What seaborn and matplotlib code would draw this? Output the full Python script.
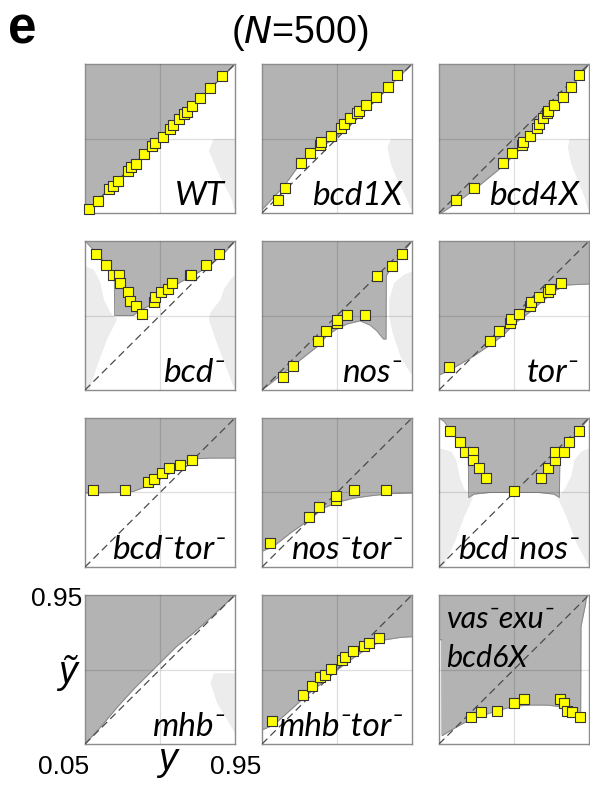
import matplotlib
matplotlib.use("Agg")
import matplotlib.pyplot as plt
import seaborn as sns

# ---- values (axes run 0.05 .. 0.95) ----
WT_X = [0.076, 0.126, 0.196, 0.216, 0.246, 0.306, 0.326, 0.354, 0.406, 0.452, 0.472,
        0.516, 0.56, 0.58, 0.612, 0.646, 0.66, 0.692, 0.74, 0.802, 0.872]
WT_Y = [0.074, 0.123, 0.193, 0.215, 0.244, 0.304, 0.326, 0.346, 0.407, 0.453, 0.473,
        0.51, 0.56, 0.58, 0.615, 0.647, 0.661, 0.695, 0.744, 0.804, 0.879]
WT_BX = [0.05, 0.25, 0.5, 0.75, 0.95]
WT_BY = [0.05, 0.25, 0.5, 0.75, 0.95]
WT_RY = [0.08, 0.13, 0.21, 0.31, 0.43, 0.5]
WT_RX = [0.94, 0.93, 0.89, 0.84, 0.79, 0.82]

BCD1_X = [0.146, 0.187, 0.281, 0.335, 0.399, 0.405, 0.462, 0.522, 0.542, 0.58, 0.622,
          0.632, 0.675, 0.733, 0.803, 0.859]
BCD1_Y = [0.127, 0.202, 0.35, 0.412, 0.463, 0.479, 0.514, 0.566, 0.586, 0.621, 0.653,
          0.667, 0.704, 0.752, 0.809, 0.884]
BCD1_BX = [0.05, 0.06, 0.18, 0.28, 0.34, 0.478, 0.7, 0.95]
BCD1_BY = [0.07, 0.08, 0.21, 0.35, 0.41, 0.495, 0.7, 0.95]
BCD1_RY = [0.08, 0.15, 0.25, 0.35, 0.45, 0.5]
BCD1_RX = [0.94, 0.91, 0.86, 0.82, 0.8, 0.82]

BCD4_X = [0.154, 0.261, 0.436, 0.486, 0.548, 0.556, 0.598, 0.636, 0.652, 0.676, 0.697,
          0.705, 0.737, 0.791, 0.839, 0.887]
BCD4_Y = [0.127, 0.202, 0.35, 0.412, 0.463, 0.479, 0.516, 0.566, 0.586, 0.621, 0.653,
          0.667, 0.704, 0.752, 0.809, 0.884]
BCD4_BX = [0.05, 0.064, 0.153, 0.26, 0.43, 0.49, 0.55, 0.65, 0.75, 0.83, 0.95]
BCD4_BY = [0.05, 0.05, 0.11, 0.19, 0.33, 0.39, 0.45, 0.56, 0.68, 0.79, 0.95]
BCD4_RY = [0.08, 0.15, 0.25, 0.35, 0.45, 0.5]
BCD4_RX = [0.94, 0.92, 0.88, 0.84, 0.82, 0.83]

BCD_X = [0.114, 0.178, 0.218, 0.254, 0.258, 0.308, 0.322, 0.354, 0.392, 0.464, 0.468,
         0.504, 0.548, 0.574, 0.678, 0.688, 0.774, 0.854]
BCD_Y = [0.871, 0.805, 0.744, 0.744, 0.696, 0.644, 0.585, 0.559, 0.509, 0.579, 0.609,
         0.644, 0.66, 0.694, 0.744, 0.744, 0.805, 0.871]
BCD_BX = [0.05, 0.088, 0.148, 0.198, 0.226, 0.228, 0.338, 0.378, 0.438, 0.518, 0.618,
          0.698, 0.778, 0.878, 0.95]
BCD_BY = [0.95, 0.91, 0.85, 0.77, 0.73, 0.5, 0.5, 0.53, 0.56, 0.62, 0.7, 0.74, 0.79,
          0.87, 0.95]
BCD_LY = [0.05, 0.07, 0.2, 0.36, 0.48, 0.52, 0.6, 0.7, 0.78, 0.8]
BCD_LX = [0.07, 0.08, 0.12, 0.18, 0.24, 0.2, 0.16, 0.14, 0.1, 0.05]
BCD_RY = [0.05, 0.07, 0.2, 0.36, 0.48, 0.52, 0.6, 0.66, 0.72, 0.75]
BCD_RX = [0.95, 0.94, 0.89, 0.83, 0.79, 0.8, 0.86, 0.88, 0.92, 0.95]

NOS_X = [0.178, 0.238, 0.384, 0.432, 0.498, 0.498, 0.562, 0.67, 0.738, 0.828, 0.888]
NOS_Y = [0.126, 0.193, 0.344, 0.408, 0.454, 0.474, 0.505, 0.505, 0.74, 0.801, 0.871]
NOS_BX = [0.05, 0.388, 0.438, 0.498, 0.558, 0.638, 0.698, 0.738, 0.778, 0.794, 0.796,
          0.828, 0.95]
NOS_BY = [0.05, 0.318, 0.378, 0.418, 0.448, 0.468, 0.442, 0.408, 0.358, 0.358, 0.742,
          0.79, 0.95]
NOS_RY = [0.15, 0.25, 0.4, 0.5, 0.6, 0.7, 0.75, 0.77]
NOS_RX = [0.94, 0.88, 0.83, 0.81, 0.81, 0.84, 0.9, 0.95]

TOR_X = [0.108, 0.354, 0.408, 0.474, 0.484, 0.53, 0.594, 0.604, 0.65, 0.704, 0.714, 0.784]
TOR_Y = [0.191, 0.346, 0.406, 0.452, 0.477, 0.509, 0.559, 0.579, 0.613, 0.644, 0.66, 0.694]
TOR_BX = [0.05, 0.114, 0.234, 0.354, 0.434, 0.514, 0.594, 0.674, 0.754, 0.814, 0.894, 0.95]
TOR_BY = [0.14, 0.17, 0.24, 0.32, 0.38, 0.46, 0.52, 0.59, 0.654, 0.684, 0.688, 0.69]

BT_X = [0.096, 0.29, 0.426, 0.466, 0.514, 0.552, 0.622, 0.694]
BT_Y = [0.513, 0.513, 0.561, 0.581, 0.617, 0.648, 0.666, 0.698]
BT_BX = [0.05, 0.26, 0.34, 0.42, 0.5, 0.58, 0.64, 0.71, 0.8, 0.95]
BT_BY = [0.497, 0.5, 0.507, 0.537, 0.581, 0.627, 0.668, 0.704, 0.708, 0.708]

NT_X = [0.1, 0.332, 0.39, 0.494, 0.494, 0.602, 0.796]
NT_Y = [0.195, 0.35, 0.41, 0.456, 0.48, 0.513, 0.513]
NT_BX = [0.05, 0.12, 0.22, 0.32, 0.42, 0.5, 0.6, 0.7, 0.82, 0.95]
NT_BY = [0.145, 0.175, 0.255, 0.326, 0.406, 0.44, 0.466, 0.48, 0.493, 0.497]

BN_X = [0.114, 0.174, 0.208, 0.254, 0.254, 0.292, 0.334, 0.498, 0.664, 0.702, 0.748,
        0.748, 0.798, 0.828, 0.892]
BN_Y = [0.871, 0.805, 0.744, 0.744, 0.696, 0.646, 0.585, 0.509, 0.585, 0.646, 0.696,
        0.744, 0.744, 0.805, 0.871]
BN_BX = [0.05, 0.08, 0.1, 0.14, 0.18, 0.2, 0.226, 0.228, 0.26, 0.35, 0.65, 0.74, 0.772,
         0.776, 0.8, 0.83, 0.89, 0.95]
BN_BY = [0.95, 0.93, 0.9, 0.85, 0.79, 0.76, 0.72, 0.47, 0.49, 0.5, 0.5, 0.49, 0.47,
         0.76, 0.77, 0.81, 0.875, 0.95]
BN_LY = [0.05, 0.07, 0.2, 0.36, 0.47, 0.5, 0.52, 0.6, 0.7, 0.75, 0.77]
BN_LX = [0.07, 0.08, 0.14, 0.2, 0.25, 0.23, 0.2, 0.17, 0.15, 0.12, 0.05]
BN_RY = [0.05, 0.07, 0.2, 0.36, 0.47, 0.5, 0.52, 0.6, 0.7, 0.75, 0.77]
BN_RX = [0.95, 0.94, 0.87, 0.81, 0.76, 0.78, 0.8, 0.84, 0.86, 0.9, 0.95]

MHB_BX = [0.05, 0.15, 0.25, 0.35, 0.5, 0.6, 0.7, 0.8, 0.95]
MHB_BY = [0.05, 0.16, 0.28, 0.39, 0.54, 0.64, 0.72, 0.81, 0.95]
MHB_RY = [0.1, 0.13, 0.2, 0.3, 0.42, 0.48]
MHB_RX = [0.95, 0.94, 0.9, 0.84, 0.8, 0.82]

MT_X = [0.11, 0.295, 0.349, 0.399, 0.43, 0.464, 0.528, 0.55, 0.598, 0.66, 0.693, 0.753]
MT_Y = [0.191, 0.344, 0.402, 0.452, 0.468, 0.506, 0.557, 0.577, 0.613, 0.642, 0.662, 0.692]
MT_BX = [0.05, 0.12, 0.22, 0.32, 0.42, 0.5, 0.58, 0.68, 0.78, 0.88, 0.95]
MT_BY = [0.135, 0.165, 0.255, 0.346, 0.426, 0.497, 0.557, 0.627, 0.678, 0.694, 0.698]

VEB_X = [0.24, 0.3, 0.4, 0.5, 0.562, 0.778, 0.798, 0.818, 0.848, 0.894]
VEB_Y = [0.211, 0.242, 0.252, 0.3, 0.32, 0.32, 0.3, 0.252, 0.242, 0.211]
VEB_BX = [0.05, 0.067, 0.068, 0.15, 0.24, 0.35, 0.45, 0.52, 0.6, 0.7, 0.78, 0.82, 0.86,
          0.9, 0.902, 0.91, 0.93, 0.935, 0.95]
VEB_BY = [0.68, 0.68, 0.1, 0.15, 0.2, 0.235, 0.265, 0.28, 0.285, 0.285, 0.275, 0.25,
          0.225, 0.2, 0.76, 0.8, 0.9, 0.95, 0.95]

LABELS = ["WT", "bcd1X", "bcd4X", "bcd\u207b", "nos\u207b", "tor\u207b",
          "bcd\u207btor\u207b", "nos\u207btor\u207b", "bcd\u207bnos\u207b",
          "mhb\u207b", "mhb\u207btor\u207b", "vas\u207bexu\u207b\nbcd6X"]

# (points x, points y, boundary x, boundary y, left shade, right shade)
PANELS = [
    (WT_X, WT_Y, WT_BX, WT_BY, None, (WT_RY, WT_RX)),
    (BCD1_X, BCD1_Y, BCD1_BX, BCD1_BY, None, (BCD1_RY, BCD1_RX)),
    (BCD4_X, BCD4_Y, BCD4_BX, BCD4_BY, None, (BCD4_RY, BCD4_RX)),
    (BCD_X, BCD_Y, BCD_BX, BCD_BY, (BCD_LY, BCD_LX), (BCD_RY, BCD_RX)),
    (NOS_X, NOS_Y, NOS_BX, NOS_BY, None, (NOS_RY, NOS_RX)),
    (TOR_X, TOR_Y, TOR_BX, TOR_BY, None, None),
    (BT_X, BT_Y, BT_BX, BT_BY, None, None),
    (NT_X, NT_Y, NT_BX, NT_BY, None, None),
    (BN_X, BN_Y, BN_BX, BN_BY, (BN_LY, BN_LX), (BN_RY, BN_RX)),
    ([], [], MHB_BX, MHB_BY, None, (MHB_RY, MHB_RX)),
    (MT_X, MT_Y, MT_BX, MT_BY, None, None),
    (VEB_X, VEB_Y, VEB_BX, VEB_BY, None, None),
]

LO, HI = 0.05, 0.95
W, H = 590, 785
COL_LEFT = [85, 262, 439]
ROW_TOP = [64, 241, 418, 595]
PW, PH = 150, 149

FILL = "#b3b3b3"
SHADE = "#ececec"
LABEL_FONT = ["Lato", "DejaVu Sans"]

sns.set_style("white")
plt.rcParams["font.family"] = ["Liberation Sans", "DejaVu Sans"]
plt.rcParams["text.color"] = "black"

fig = plt.figure(figsize=(W / 100, H / 100), dpi=100)

for i, (px, py, bx, by, lshade, rshade) in enumerate(PANELS):
    r, c = divmod(i, 3)
    ax = fig.add_axes([COL_LEFT[c] / W, 1 - (ROW_TOP[r] + PH) / H, PW / W, PH / H])
    if lshade:
        ax.fill_betweenx(lshade[0], LO, lshade[1], color=SHADE, lw=0, zorder=1)
    if rshade:
        ax.fill_betweenx(rshade[0], rshade[1], HI, color=SHADE, lw=0, zorder=1)
    ax.fill_between(bx, by, HI, color=FILL, lw=0, zorder=2)
    sns.lineplot(x=bx, y=by, sort=False, estimator=None, color="#8a8a8a", lw=0.7,
                 ax=ax, zorder=3)
    ax.axvline(0.5, color="k", alpha=0.13, lw=0.9, zorder=3)
    ax.axhline(0.5, color="k", alpha=0.13, lw=0.9, zorder=3)
    ax.axline((LO, LO), slope=1, color="#4a4a4a", lw=0.9, dashes=(6, 3.5), zorder=4)
    if px:
        sns.scatterplot(x=px, y=py, marker="s", s=48, color="#ffff00",
                        edgecolor="#333333", linewidth=0.8, ax=ax, zorder=5,
                        legend=False, clip_on=False)
    lab = LABELS[i]
    if "\n" in lab:
        top, bottom = lab.split("\n")
        ax.text(0.095, 0.75, top, ha="left", va="baseline", fontsize=22,
                style="italic", family=LABEL_FONT, zorder=6)
        ax.text(0.095, 0.518, bottom, ha="left", va="baseline", fontsize=22,
                style="italic", family=LABEL_FONT, zorder=6)
    else:
        ax.text(0.89, 0.1, lab, ha="right", va="baseline", fontsize=24,
                style="italic", family=LABEL_FONT, zorder=6)
    ax.set_xlim(LO, HI)
    ax.set_ylim(LO, HI)
    ax.set_xticks([])
    ax.set_yticks([])
    for sp in ax.spines.values():
        sp.set_color("#8c8c8c")
        sp.set_linewidth(1.0)

fig.text(8 / W, 1 - 43 / H, "e", fontsize=37, fontweight="bold", va="baseline")
fig.text(300 / W, 1 - 43 / H, "($\\it{N}$=500)", fontsize=27, ha="center",
         va="baseline")
fig.text(82 / W, 1 - 599 / H, "0.95", fontsize=19, ha="right", va="center")
fig.text(64 / W, 1 - 767 / H, "0.05", fontsize=19, ha="center", va="center")
fig.text(236 / W, 1 - 767 / H, "0.95", fontsize=19, ha="center", va="center")
fig.text(167 / W, 1 - 770 / H, "y", fontsize=27, style="italic", ha="center",
         va="baseline")
fig.text(67 / W, 1 - 683 / H, "\u1ef9", fontsize=27, style="italic", ha="center",
         va="baseline")

fig.savefig("out.png", dpi=100)
plt.close(fig)
